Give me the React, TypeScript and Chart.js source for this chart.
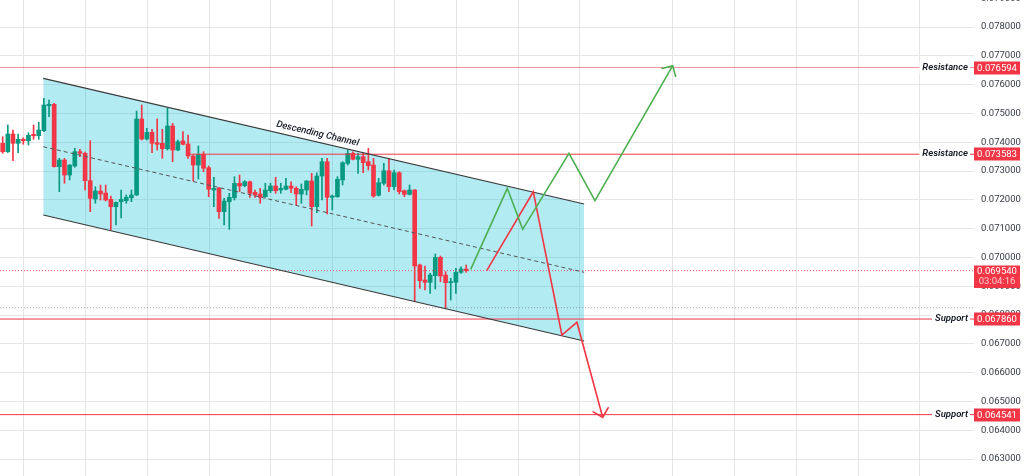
import React, { useEffect, useRef } from 'react';
import { Chart, registerables } from 'chart.js';

Chart.register(...registerables);

// ---- candle data (oldest -> newest) ----
const OPEN = [0.073962,0.073670,0.074285,0.073962,0.074101,0.074052,0.074274,0.074226,0.074399,0.075267,
0.075316,0.073149,0.073382,0.072861,0.073174,0.073670,0.073615,0.072663,0.072028,0.072306,
0.072236,0.072017,0.071760,0.071934,0.071969,0.072073,0.072167,0.074806,0.074111,0.074344,
0.073983,0.073962,0.073774,0.074563,0.073729,0.074042,0.073938,0.073521,0.073208,0.073580,
0.073115,0.072340,0.072399,0.071587,0.071934,0.072073,0.072573,0.072490,0.072628,0.072260,
0.072201,0.072108,0.072316,0.072479,0.072340,0.072365,0.072479,0.072399,0.072201,0.072340,
0.072653,0.071760,0.072826,0.073323,0.072087,0.072108,0.072688,0.073267,0.073615,0.073406,
0.073497,0.073323,0.073208,0.072156,0.072573,0.073010,0.072455,0.072941,0.072316,0.072191,
0.072340,0.069736,0.069215,0.069135,0.069365,0.070003,0.069389,0.069122,0.069135,0.069483,
0.069597];
const HIGH = [0.074191,0.074597,0.074424,0.074285,0.074156,0.074330,0.074597,0.074691,0.075524,0.075465,
0.075351,0.073441,0.073441,0.073220,0.073788,0.073754,0.073660,0.074052,0.072455,0.072514,
0.072514,0.072132,0.071934,0.072340,0.072167,0.072340,0.075083,0.075292,0.074483,0.074448,
0.074806,0.074448,0.075177,0.074656,0.074076,0.074365,0.074250,0.073556,0.073868,0.073670,
0.073174,0.072781,0.072434,0.072052,0.072226,0.072802,0.072861,0.072663,0.072653,0.072340,
0.072399,0.072573,0.072573,0.072781,0.072573,0.072747,0.072628,0.072455,0.072549,0.072663,
0.072920,0.072941,0.073441,0.073441,0.072167,0.072802,0.073323,0.073729,0.073670,0.073615,
0.073615,0.073788,0.073441,0.072747,0.073267,0.073441,0.073035,0.072976,0.072340,0.072514,
0.072357,0.069771,0.069701,0.069448,0.070118,0.070049,0.069504,0.069274,0.069622,0.069677,
0.069736];
const LOW = [0.073615,0.073642,0.073358,0.073635,0.073927,0.073903,0.074101,0.074101,0.074365,0.074885,
0.073139,0.072281,0.072573,0.072688,0.073129,0.073497,0.072340,0.071587,0.071879,0.071993,
0.071958,0.070951,0.071125,0.071368,0.071879,0.071934,0.072149,0.074076,0.074076,0.073635,
0.073729,0.073441,0.073729,0.073323,0.073705,0.073903,0.073441,0.072653,0.072722,0.072976,
0.072108,0.071760,0.071358,0.071125,0.070976,0.071993,0.072281,0.072455,0.072087,0.072087,
0.071879,0.072087,0.072247,0.072226,0.072226,0.072340,0.072247,0.071820,0.071879,0.072167,
0.071090,0.071552,0.071993,0.071507,0.071646,0.072087,0.072514,0.073208,0.073382,0.072920,
0.072941,0.073035,0.072087,0.072132,0.072514,0.072281,0.072340,0.072201,0.072108,0.072167,
0.068462,0.068927,0.068868,0.068754,0.068903,0.069156,0.068233,0.068521,0.068754,0.069448,
0.069483];
const CLOSE = [0.073670,0.074285,0.073962,0.074101,0.074052,0.074240,0.074226,0.074424,0.075292,0.075316,
0.073149,0.073382,0.072861,0.073208,0.073670,0.073615,0.072663,0.072052,0.072306,0.072201,
0.071993,0.071760,0.071913,0.072017,0.072087,0.072167,0.074806,0.074111,0.074344,0.073962,
0.073927,0.073774,0.074563,0.073729,0.074017,0.073927,0.073521,0.073208,0.073580,0.073094,
0.072365,0.072399,0.071587,0.071958,0.072087,0.072573,0.072479,0.072628,0.072226,0.072167,
0.072087,0.072340,0.072479,0.072316,0.072399,0.072479,0.072399,0.072201,0.072365,0.072653,
0.071760,0.072826,0.073323,0.072087,0.072132,0.072712,0.073288,0.073615,0.073406,0.073497,
0.073288,0.073184,0.072132,0.072594,0.073010,0.072455,0.072941,0.072281,0.072191,0.072340,
0.069701,0.069191,0.069135,0.069389,0.070003,0.069354,0.069122,0.069156,0.069483,0.069597,
0.069540];

// ---- drawings ----
const CHANNEL_X = [7.88, 112.9];
const CHANNEL_UPPER = [0.076219, 0.071854];
const CHANNEL_LOWER = [0.071472, 0.067097];
const CHANNEL_MID = [0.073844, 0.069483];
const CHANNEL_LABEL = 'Descending Channel';
const CHANNEL_LABEL_AT = 60.8;

const LEVEL_PRICES = [0.076594, 0.073583, 0.067860, 0.064541];
const LEVEL_NAMES = ['Resistance', 'Resistance', 'Support', 'Support'];
const LEVEL_FROM: (number | null)[] = [null, 36.4, null, null];

const LAST_PRICE = 0.069540;
const COUNTDOWN = '03:04:16';
const PREV_LINE = 0.068253;

const BULL_X = [90.87, 97.98, 100.97, 109.96, 115.01, 130.1];
const BULL_Y = [0.069587, 0.072399, 0.070976, 0.073615, 0.071969, 0.076656];
const BEAR_X = [93.98, 103.03, 108.58, 111.5, 116.5];
const BEAR_Y = [0.069538, 0.072281, 0.067306, 0.067747, 0.064448];

// ---- axes ----
const X_MIN = -0.52;
const X_MAX = 188.6;
const Y_MIN = 0.06241;
const Y_MAX = 0.078938;
const Y_TICKS = [0.063,0.064,0.065,0.066,0.067,0.068,0.069,0.070,0.071,0.072,0.073,0.074,0.075,0.076,0.077,0.078,0.079];
const X_GRID = [4,16,28,40,52,64,76,88,100,112,130,142,154,166,178];

const GREEN = '#089981';
const RED = '#f23645';
const GRID = '#e6e6e6';
const FONT = 'Roboto';

export default function App() {
  const ref = useRef<HTMLCanvasElement>(null);

  useEffect(() => {
    document.body.style.margin = '0';
    const canvas = ref.current;
    if (!canvas) return;

    const idx = OPEN.map((_, i) => i);
    const colors = idx.map(i => (CLOSE[i] >= OPEN[i] ? GREEN : RED));
    const wickData = idx.map(i => ({ x: i, y: [LOW[i], HIGH[i]] }));
    const bodyData = idx.map(i => ({ x: i, y: [OPEN[i], CLOSE[i]] }));
    const pts = (xs: number[], ys: number[]) => xs.map((x, i) => ({ x, y: ys[i] }));
    const line = (data: any[], color: string, width: number, dash: number[] = [], order = 5) => ({
      type: 'line' as const, data, borderColor: color, borderWidth: width, borderDash: dash,
      pointRadius: 0, fill: false, tension: 0, order,
    });

    const levelSets = LEVEL_PRICES.map((p, i) =>
      line([{ x: LEVEL_FROM[i] ?? X_MIN, y: p }, { x: X_MAX, y: p }],
        i === 0 ? 'rgba(242,54,69,0.55)' : RED, 1, [], 6));

    const overlay = {
      id: 'overlay',
      beforeDatasetsDraw(chart: any) {
        const { ctx, chartArea, scales } = chart;
        ctx.save();
        ctx.strokeStyle = GRID;
        ctx.lineWidth = 1;
        X_GRID.forEach(v => {
          const px = Math.round(scales.x.getPixelForValue(v)) + 0.5;
          ctx.beginPath();
          ctx.moveTo(px, chartArea.top);
          ctx.lineTo(px, chartArea.bottom);
          ctx.stroke();
        });
        ctx.restore();
      },
      afterDraw(chart: any) {
        const { ctx, chartArea, scales } = chart;
        const xs = scales.x, ys = scales.y;
        ctx.save();

        // channel label
        const x1 = xs.getPixelForValue(CHANNEL_X[0]), y1 = ys.getPixelForValue(CHANNEL_UPPER[0]);
        const x2 = xs.getPixelForValue(CHANNEL_X[1]), y2 = ys.getPixelForValue(CHANNEL_UPPER[1]);
        const ang = Math.atan2(y2 - y1, x2 - x1);
        const lx = xs.getPixelForValue(CHANNEL_LABEL_AT);
        const ly = y1 + (y2 - y1) * (lx - x1) / (x2 - x1);
        ctx.translate(lx, ly);
        ctx.rotate(ang);
        ctx.font = `italic 500 9.5px ${FONT}`;
        ctx.fillStyle = '#131722';
        ctx.textAlign = 'center';
        ctx.textBaseline = 'middle';
        ctx.fillText(CHANNEL_LABEL, 0, -8);
        ctx.restore();
        ctx.save();

        // arrow heads
        const arrow = (X: number[], Y: number[], color: string) => {
          const n = X.length;
          const tx = xs.getPixelForValue(X[n - 1]), ty = ys.getPixelForValue(Y[n - 1]);
          const px = xs.getPixelForValue(X[n - 2]), py = ys.getPixelForValue(Y[n - 2]);
          const a = Math.atan2(py - ty, px - tx);
          const L = 11, s = Math.PI / 4;
          ctx.strokeStyle = color;
          ctx.lineWidth = 1.6;
          ctx.lineCap = 'round';
          ctx.beginPath();
          ctx.moveTo(tx + L * Math.cos(a + s), ty + L * Math.sin(a + s));
          ctx.lineTo(tx, ty);
          ctx.lineTo(tx + L * Math.cos(a - s), ty + L * Math.sin(a - s));
          ctx.stroke();
        };
        arrow(BULL_X, BULL_Y, '#4caf50');
        arrow(BEAR_X, BEAR_Y, RED);

        // level labels + price boxes
        const boxX = chartArea.right;
        const boxW = 46;
        LEVEL_PRICES.forEach((p, i) => {
          const y = Math.round(ys.getPixelForValue(p));
          ctx.font = `italic 600 9.5px ${FONT}`;
          const tw = ctx.measureText(LEVEL_NAMES[i]).width;
          const tr = chartArea.right - 6;
          ctx.fillStyle = '#ffffff';
          ctx.fillRect(tr - tw - 3, y - 6, tw + 5, 12);
          ctx.fillStyle = '#131722';
          ctx.textAlign = 'right';
          ctx.textBaseline = 'middle';
          ctx.fillText(LEVEL_NAMES[i], tr, y);

          ctx.fillStyle = RED;
          ctx.fillRect(boxX, y - 6.5, boxW, 13);
          ctx.fillStyle = '#ffffff';
          ctx.font = `9.5px ${FONT}`;
          ctx.textAlign = 'center';
          ctx.fillText(p.toFixed(6), boxX + boxW / 2, y + 0.5);
        });

        const ly2 = Math.round(ys.getPixelForValue(LAST_PRICE));
        ctx.fillStyle = RED;
        ctx.fillRect(boxX, ly2 - 5.5, boxW, 22.5);
        ctx.fillStyle = '#ffffff';
        ctx.font = `9.5px ${FONT}`;
        ctx.textAlign = 'center';
        ctx.textBaseline = 'middle';
        ctx.fillText(LAST_PRICE.toFixed(6), boxX + boxW / 2, ly2 + 0.5);
        ctx.fillStyle = 'rgba(255,255,255,0.72)';
        ctx.fillText(COUNTDOWN, boxX + boxW / 2, ly2 + 11);
        ctx.restore();
      },
    };

    const chart = new Chart(canvas, {
      type: 'bar',
      data: {
        datasets: [
          { type: 'line', data: pts(CHANNEL_X, CHANNEL_UPPER), borderWidth: 0, pointRadius: 0,
            fill: '+1', backgroundColor: 'rgba(0,188,212,0.3)', order: 30 } as any,
          { type: 'line', data: pts(CHANNEL_X, CHANNEL_LOWER), borderWidth: 0, pointRadius: 0,
            fill: false, order: 29 } as any,
          { type: 'bar', data: wickData as any, backgroundColor: colors, barThickness: 1,
            grouped: false, borderWidth: 0, order: 12 } as any,
          { type: 'bar', data: bodyData as any, backgroundColor: colors, barThickness: 4,
            grouped: false, borderWidth: 0, minBarLength: 1, order: 11 } as any,
          line(pts(CHANNEL_X, CHANNEL_UPPER), '#3a3a3a', 1.2),
          line(pts(CHANNEL_X, CHANNEL_LOWER), '#3a3a3a', 1.2),
          line(pts(CHANNEL_X, CHANNEL_MID), '#555555', 1, [4, 3]),
          ...levelSets,
          line([{ x: X_MIN, y: LAST_PRICE }, { x: X_MAX, y: LAST_PRICE }], 'rgba(242,54,69,0.8)', 1, [1, 2], 7),
          line([{ x: X_MIN, y: PREV_LINE }, { x: X_MAX, y: PREV_LINE }], 'rgba(120,123,134,0.7)', 1, [1, 2], 7),
          line(pts(BULL_X, BULL_Y), '#4caf50', 1.6, [], 1),
          line(pts(BEAR_X, BEAR_Y), RED, 1.6, [], 1),
        ] as any,
      },
      options: {
        animation: false,
        responsive: true,
        maintainAspectRatio: false,
        events: [],
        layout: { padding: 0 },
        plugins: { legend: { display: false }, tooltip: { enabled: false } },
        scales: {
          x: { type: 'linear', min: X_MIN, max: X_MAX, offset: false, display: false },
          y: {
            type: 'linear',
            position: 'right',
            min: Y_MIN,
            max: Y_MAX,
            afterBuildTicks: (s: any) => { s.ticks = Y_TICKS.map(v => ({ value: v })); },
            afterFit: (s: any) => { s.width = 53; s.paddingTop = 0; s.paddingBottom = 0; },
            ticks: {
              color: '#363a45',
              font: { family: FONT, size: 9.5 },
              padding: 7,
              autoSkip: false,
              callback: (v: any) => Number(v).toFixed(6),
            },
            grid: { color: GRID, drawTicks: false, lineWidth: 1 },
            border: { display: false },
          },
        },
      } as any,
      plugins: [overlay],
    });

    return () => chart.destroy();
  }, []);

  return (
    <div style={{ width: 1027, height: 476, position: 'relative' }}>
      <canvas ref={ref} />
    </div>
  );
}
